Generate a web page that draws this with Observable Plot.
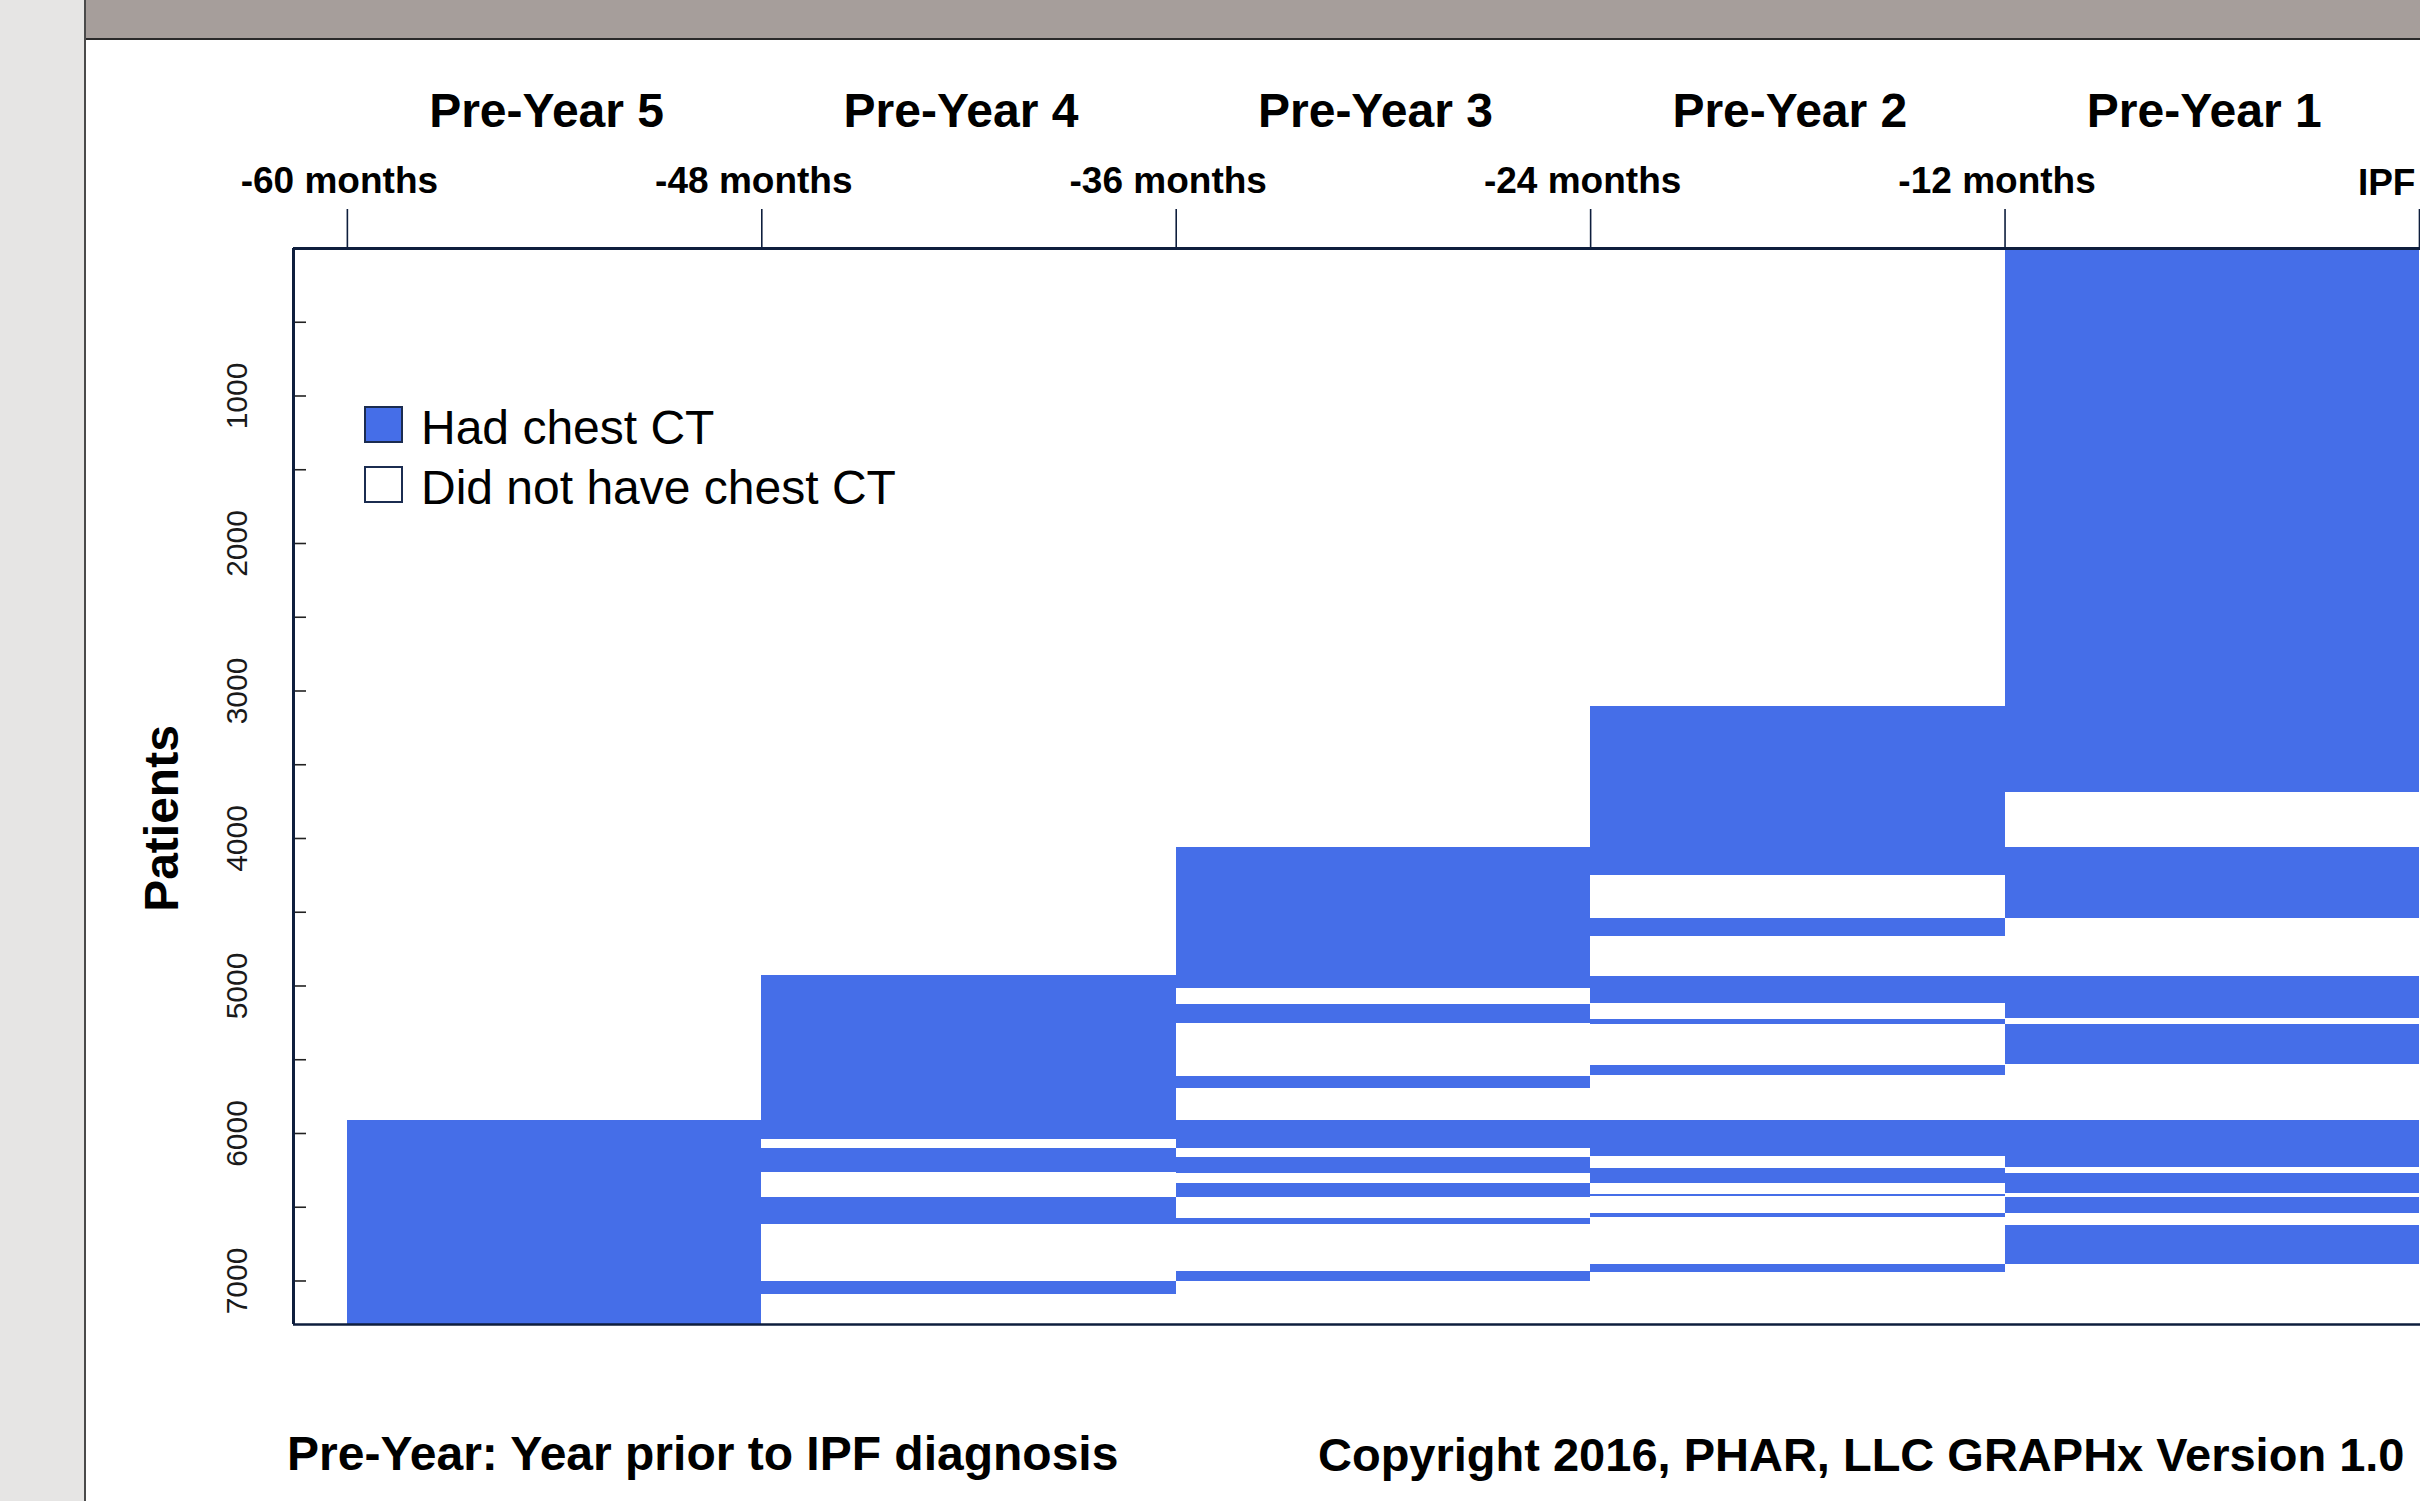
<!DOCTYPE html>
<html>
<head>
<meta charset="utf-8">
<script src="https://cdn.jsdelivr.net/npm/d3@7"></script>
<script src="https://cdn.jsdelivr.net/npm/@observablehq/plot@0.6"></script>
<style>
  html, body { margin: 0; padding: 0; background: #fff; overflow: hidden; }
  #page { position: relative; width: 2420px; height: 1501px; background: #fff; font-family: "Liberation Sans", Arial, sans-serif; }
  #leftstrip { position: absolute; left: 0; top: 0; width: 84px; height: 1501px; background: #e6e5e4; border-right: 2px solid #4a4a4a; z-index: 2; }
  #topband { position: absolute; left: 86px; top: 0; width: 2334px; height: 38px; background: #a69e9b; border-bottom: 2px solid #2a2a2a; z-index: 2; }
  #chart { position: absolute; left: 0; top: 0; z-index: 1; }
  .lbox { position: absolute; left: 364px; width: 39px; height: 37px; box-sizing: border-box; border: 2px solid #1b2c50; z-index: 3; }
  .ltext { position: absolute; left: 421px; font-size: 48px; line-height: 48px; color: #000; white-space: nowrap; z-index: 3; }
  .foot { position: absolute; top: 1430px; font-size: 48px; line-height: 48px; font-weight: bold; color: #000; white-space: nowrap; z-index: 3; }
</style>
</head>
<body>
<div id="page">
  <div id="leftstrip"></div>
  <div id="topband"></div>
  <div id="chart"></div>
  <div class="lbox" id="box1" style="top:406px;"></div>
  <div class="lbox" id="box2" style="top:466px;background:#fff;"></div>
  <div class="ltext" id="lt1" style="top:404px;"></div>
  <div class="ltext" id="lt2" style="top:464px;"></div>
  <div class="foot" id="foot1" style="left:287px;"></div>
  <div class="foot" id="foot2" style="left:1318px;font-size:47px;top:1431px;"></div>
</div>
<script>
// ---- data ----
const periods = ["Pre-Year 5", "Pre-Year 4", "Pre-Year 3", "Pre-Year 2", "Pre-Year 1"];
const periodStartMonth = [-60, -48, -36, -24, -12];
const periodEndMonth = [-48, -36, -24, -12, 0];
const monthTicks = [-60, -48, -36, -24, -12];
const monthTickLabels = ["-60 months", "-48 months", "-36 months", "-24 months", "-12 months"];
const diagnosisMonth = [0];
const diagnosisLabel = ["IPF"];
const patientTickLabels = [1000, 2000, 3000, 4000, 5000, 6000, 7000];
const patientMinorTicks = [500, 1000, 1500, 2000, 2500, 3000, 3500, 4000, 4500, 5000, 5500, 6000, 6500, 7000];
const totalPatients = 7295;
// patient ranges (row index) that had a chest CT, per pre-year
const ctPreYear5 = [[5912, 7295]];
const ctPreYear4 = [[4930, 6043], [6102, 6266], [6433, 6620], [7004, 7094]];
const ctPreYear3 = [[4062, 5019], [5125, 5256], [5612, 5694], [5913, 6100], [6160, 6269], [6337, 6432], [6574, 6619], [6936, 7006]];
const ctPreYear2 = [[3105, 4248], [4542, 4662], [4933, 5122], [5224, 5258], [5542, 5608], [5915, 6155], [6240, 6338], [6411, 6428], [6545, 6572], [6886, 6940]];
const ctPreYear1 = [[0, 3690], [4062, 4540], [4933, 5220], [5261, 5535], [5913, 6229], [6268, 6408], [6437, 6543], [6625, 6888]];
const legendLabels = ["Had chest CT", "Did not have chest CT"];
const footnote = "Pre-Year: Year prior to IPF diagnosis";
const copyright = "Copyright 2016, PHAR, LLC GRAPHx Version 1.0";

// ---- build table ----
const ctBands = [ctPreYear5, ctPreYear4, ctPreYear3, ctPreYear2, ctPreYear1];
const rows = [];
ctBands.forEach((bands, i) => bands.forEach(([lo, hi]) => rows.push({
  period: periods[i], x1: periodStartMonth[i], x2: periodEndMonth[i], y1: lo, y2: hi
})));

const BLUE = "#456ee8";
const NAVY = "#0e1e3d";
const FONT = "Liberation Sans, Arial, sans-serif";
const xDomain = [-61.56, 0.03];

const chart = Plot.plot({
  width: 2420,
  height: 1334,
  marginLeft: 293,
  marginRight: 0,
  marginTop: 248,
  marginBottom: 10,
  style: { background: "transparent", fontFamily: FONT, overflow: "visible" },
  x: { domain: xDomain },
  y: { domain: [0, totalPatients], reverse: true },
  marks: [
    Plot.rect(rows, { x1: "x1", x2: "x2", y1: "y1", y2: "y2", fill: BLUE, shapeRendering: "crispEdges" }),
    // top axis ticks
    Plot.axisX([...monthTicks, ...diagnosisMonth], { anchor: "top", tickSize: 40, fill: "none", stroke: NAVY, strokeWidth: 1.6, label: null }),
    // inner y ticks
    Plot.axisY(patientMinorTicks, { anchor: "left", tickSize: -13, fill: "none", stroke: "#222", strokeWidth: 1.6, label: null }),
    // month labels
    Plot.text(monthTicks, { x: d => d, text: (d, i) => monthTickLabels[i], frameAnchor: "top", lineAnchor: "bottom", dy: -56, dx: -8, fontSize: 37, fontWeight: "bold", fill: "#000", fontFamily: FONT }),
    Plot.text(diagnosisMonth, { x: d => d, text: (d, i) => diagnosisLabel[i], frameAnchor: "top", lineAnchor: "bottom", textAnchor: "end", dy: -54, dx: -4, fontSize: 37, fontWeight: "bold", fill: "#000", fontFamily: FONT }),
    // pre-year group labels
    Plot.text(periods, { x: (d, i) => (periodStartMonth[i] + periodEndMonth[i]) / 2, text: d => d, frameAnchor: "top", lineAnchor: "bottom", dy: -122, dx: -8, fontSize: 48, fontWeight: "bold", fill: "#000", fontFamily: FONT }),
    // y tick labels (rotated)
    Plot.text(patientTickLabels, { y: d => d, text: d => String(d), frameAnchor: "left", rotate: -90, textAnchor: "middle", lineAnchor: "bottom", dx: -47, fontSize: 30, fill: "#1a1a1a", fontFamily: FONT, ariaLabel: "ytick-label" }),
    // y axis title
    Plot.text(["Patients"], { text: d => d, frameAnchor: "left", rotate: -90, textAnchor: "middle", lineAnchor: "bottom", dx: -116, dy: 32, fontSize: 48, fontWeight: "bold", fill: "#000", fontFamily: FONT }),
    // frame
    Plot.ruleY([0], { stroke: NAVY, strokeWidth: 3 }),
    Plot.ruleY([totalPatients], { stroke: NAVY, strokeWidth: 2.5 }),
    Plot.ruleX([xDomain[0]], { stroke: NAVY, strokeWidth: 3 })
  ]
});

// compress rotated tick labels along their reading direction (narrow face in the original)
chart.querySelectorAll('g[aria-label="ytick-label"] text').forEach(t => {
  const tr = t.getAttribute("transform") || "";
  t.setAttribute("transform", tr + " scale(0.86,1)");
});

document.getElementById("chart").appendChild(chart);
document.getElementById("box1").style.background = BLUE;
document.getElementById("lt1").textContent = legendLabels[0];
document.getElementById("lt2").textContent = legendLabels[1];
document.getElementById("foot1").textContent = footnote;
document.getElementById("foot2").textContent = copyright;
</script>
</body>
</html>
